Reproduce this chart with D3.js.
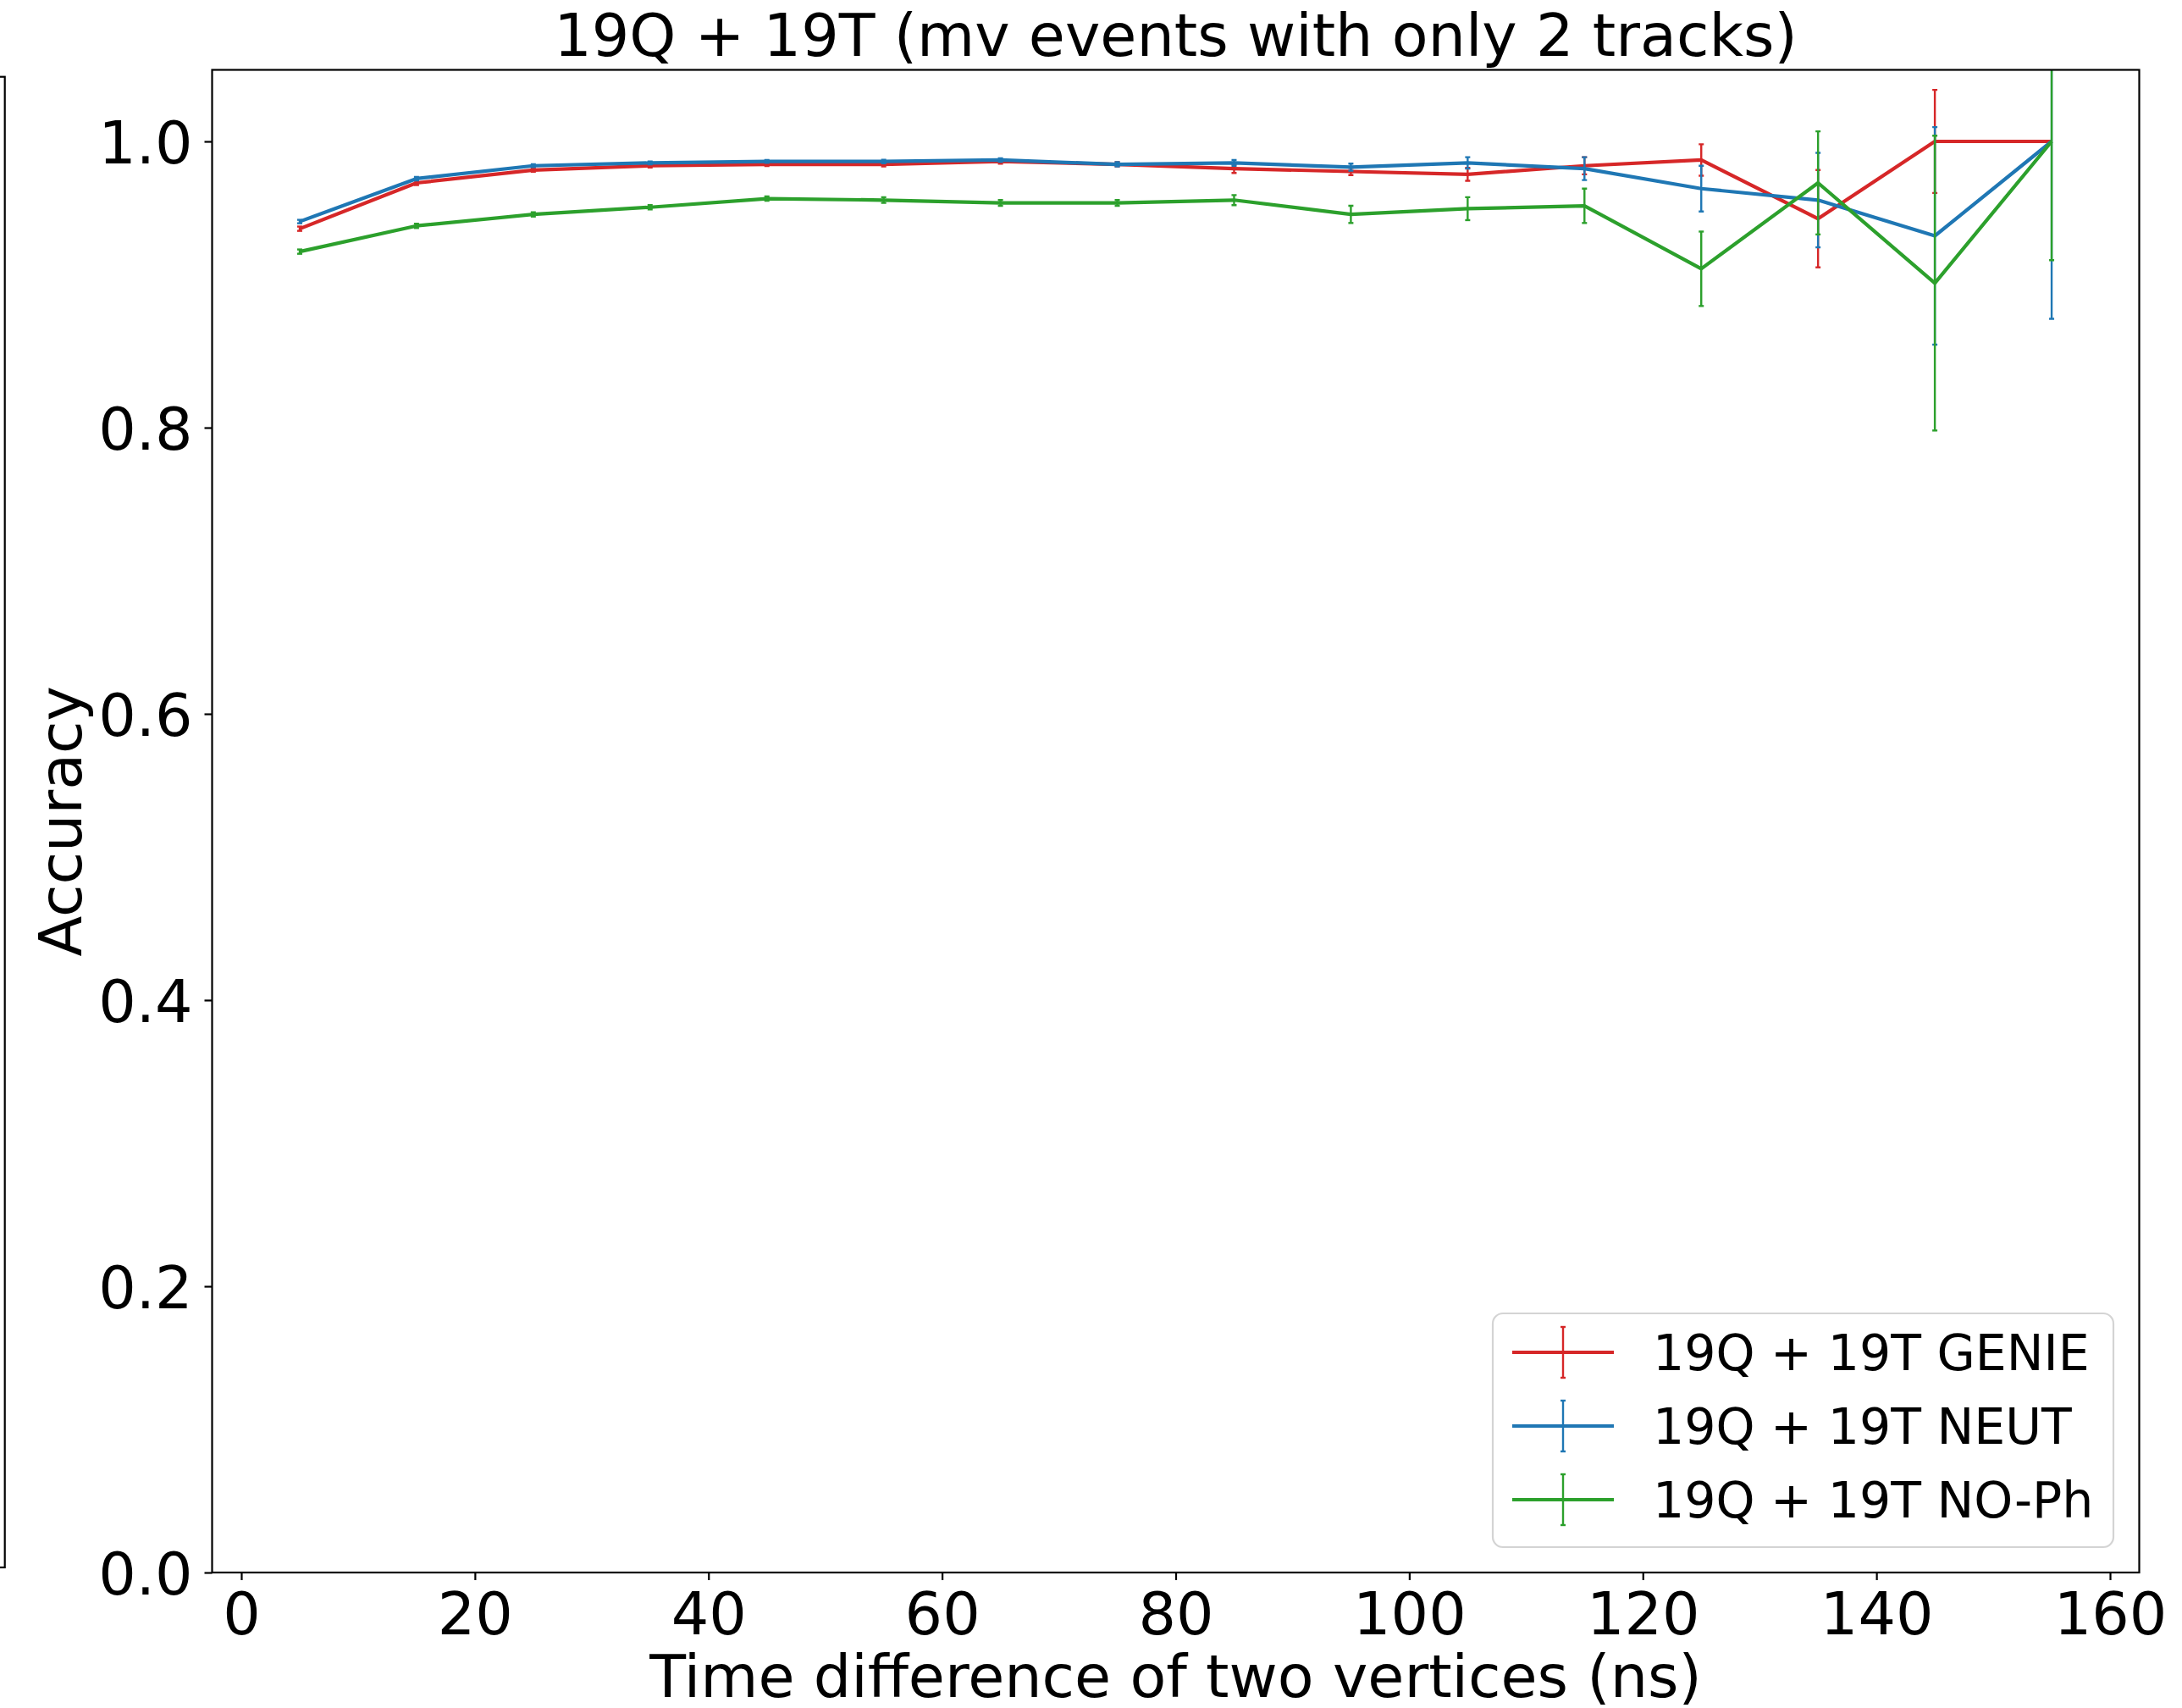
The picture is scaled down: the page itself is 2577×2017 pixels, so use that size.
<!DOCTYPE html>
<html>
<head>
<meta charset="utf-8">
<script src="https://cdn.jsdelivr.net/npm/d3@7"></script>
<style>
  html, body { margin: 0; padding: 0; background: #ffffff; }
  svg { display: block; font-family: "DejaVu Sans", sans-serif; }
</style>
</head>
<body>
<svg id="chart" width="2577" height="2017"></svg>
<script>
// Time difference bins (ns), bin centres
const timeDiff = [5, 15, 25, 35, 45, 55, 65, 75, 85, 95, 105, 115, 125, 135, 145, 155];

// Accuracy per bin and its uncertainty, one pair of arrays per sample
const genieAcc = [0.939, 0.971, 0.980, 0.983, 0.984, 0.984, 0.986, 0.984, 0.981, 0.979, 0.977, 0.983, 0.987, 0.946, 1.000, 1.000];
const genieErr = [0.0015, 0.0015, 0.0012, 0.0012, 0.0012, 0.0015, 0.0015, 0.0015, 0.003, 0.0025, 0.0045, 0.006, 0.011, 0.034, 0.036, 0.0];

const neutAcc = [0.944, 0.974, 0.983, 0.985, 0.986, 0.986, 0.987, 0.984, 0.985, 0.982, 0.985, 0.981, 0.967, 0.959, 0.934, 1.000];
const neutErr = [0.0012, 0.0012, 0.001, 0.001, 0.001, 0.0012, 0.0012, 0.0015, 0.002, 0.0025, 0.004, 0.008, 0.016, 0.033, 0.076, 0.124];

const nophAcc = [0.923, 0.941, 0.949, 0.954, 0.960, 0.959, 0.957, 0.957, 0.959, 0.949, 0.953, 0.955, 0.911, 0.971, 0.901, 1.000];
const nophErr = [0.0015, 0.0015, 0.0015, 0.0015, 0.0015, 0.002, 0.002, 0.002, 0.0035, 0.006, 0.008, 0.012, 0.026, 0.036, 0.103, 0.083];

const seriesNames = ["19Q + 19T GENIE", "19Q + 19T NEUT", "19Q + 19T NO-Ph"];
const seriesColors = ["#d62728", "#1f77b4", "#2ca02c"];

const xTicks = [0, 20, 40, 60, 80, 100, 120, 140, 160];
const yTicks = [0.0, 0.2, 0.4, 0.6, 0.8, 1.0];

const titleText = "19Q + 19T (mv events with only 2 tracks)";
const xLabel = "Time difference of two vertices (ns)";
const yLabel = "Accuracy";

const series = [
  { name: seriesNames[0], color: seriesColors[0], acc: genieAcc, err: genieErr },
  { name: seriesNames[1], color: seriesColors[1], acc: neutAcc, err: neutErr },
  { name: seriesNames[2], color: seriesColors[2], acc: nophAcc, err: nophErr }
];

// Layout
const plot = { left: 250.5, right: 2526.5, top: 82.5, bottom: 1857 };
const tickFont = 70;
const legendFont = 58.5;
const spineW = 2.2;
const lineW = 4.2;
const errW = 2.4;
const capHalf = 3;

const svg = d3.select("#chart");
svg.append("rect").attr("width", 2577).attr("height", 2017).attr("fill", "#ffffff");

const x = d3.scaleLinear().domain([-2.5, 162.5]).range([plot.left, plot.right]);
const y = d3.scaleLinear().domain([0, 1.05]).range([plot.bottom, plot.top]);

// Edge of the neighbouring panel, cut off at the left border
svg.append("rect")
  .attr("x", -20).attr("y", 90.7)
  .attr("width", 25.7).attr("height", 1851 - 90.7)
  .attr("fill", "none").attr("stroke", "#000").attr("stroke-width", spineW);

// Clip region for data marks
svg.append("defs").append("clipPath").attr("id", "plotClip")
  .append("rect")
  .attr("x", plot.left).attr("y", plot.top)
  .attr("width", plot.right - plot.left).attr("height", plot.bottom - plot.top);

const dataG = svg.append("g").attr("clip-path", "url(#plotClip)");

const line = d3.line().x((d, i) => x(timeDiff[i])).y(d => y(d));

series.forEach(s => {
  const g = dataG.append("g");
  g.append("path")
    .datum(s.acc)
    .attr("d", line)
    .attr("fill", "none")
    .attr("stroke", s.color)
    .attr("stroke-width", lineW)
    .attr("stroke-linejoin", "round");

  const bars = g.selectAll("g.err").data(s.acc.map((v, i) => ({ x: timeDiff[i], v, e: s.err[i] })))
    .enter().append("g").attr("class", "err")
    .filter(d => d.e > 0);
  bars.append("line")
    .attr("x1", d => x(d.x)).attr("x2", d => x(d.x))
    .attr("y1", d => y(d.v - d.e)).attr("y2", d => y(d.v + d.e))
    .attr("stroke", s.color).attr("stroke-width", errW);
  [-1, 1].forEach(sign => {
    bars.append("line")
      .attr("x1", d => x(d.x) - capHalf).attr("x2", d => x(d.x) + capHalf)
      .attr("y1", d => y(d.v + sign * d.e)).attr("y2", d => y(d.v + sign * d.e))
      .attr("stroke", s.color).attr("stroke-width", errW);
  });
});

// Axes
const xAxis = d3.axisBottom(x).tickValues(xTicks).tickFormat(d3.format("d"))
  .tickSizeInner(9).tickSizeOuter(0).tickPadding(11);
const yAxis = d3.axisLeft(y).tickValues(yTicks).tickFormat(d3.format(".1f"))
  .tickSizeInner(9).tickSizeOuter(0).tickPadding(14);

const gx = svg.append("g").attr("transform", `translate(0,${plot.bottom})`).call(xAxis);
const gy = svg.append("g").attr("transform", `translate(${plot.left},0)`).call(yAxis);
[gx, gy].forEach(g => {
  g.select(".domain").remove();
  g.selectAll(".tick line").attr("stroke", "#000").attr("stroke-width", spineW);
  g.selectAll(".tick text")
    .attr("fill", "#000")
    .style("font-family", "'DejaVu Sans', sans-serif")
    .style("font-size", tickFont + "px");
});
gx.selectAll(".tick text").attr("dy", "0.76em");
gy.selectAll(".tick text").attr("dy", "0.36em");

// Frame
svg.append("rect")
  .attr("x", plot.left).attr("y", plot.top)
  .attr("width", plot.right - plot.left).attr("height", plot.bottom - plot.top)
  .attr("fill", "none").attr("stroke", "#000").attr("stroke-width", spineW);

// Title and axis labels
svg.append("text")
  .attr("x", (plot.left + plot.right) / 2).attr("y", 66)
  .attr("text-anchor", "middle")
  .style("font-size", tickFont + "px")
  .text(titleText);

svg.append("text")
  .attr("x", (plot.left + plot.right) / 2).attr("y", 2004)
  .attr("text-anchor", "middle")
  .style("font-size", tickFont + "px")
  .text(xLabel);

svg.append("text")
  .attr("transform", `translate(96,${(plot.top + plot.bottom) / 2}) rotate(-90)`)
  .attr("text-anchor", "middle")
  .style("font-size", tickFont + "px")
  .text(yLabel);

// Legend
const legend = { x: 1763, y: 1551, w: 733, h: 276 };
svg.append("rect")
  .attr("x", legend.x).attr("y", legend.y)
  .attr("width", legend.w).attr("height", legend.h)
  .attr("rx", 12).attr("ry", 12)
  .attr("fill", "#ffffff").attr("fill-opacity", 0.8)
  .attr("stroke", "#d4d4d4").attr("stroke-width", 2.2);

const rowY = [1597, 1684, 1771];
series.forEach((s, i) => {
  const cy = rowY[i];
  svg.append("line")
    .attr("x1", 1786).attr("x2", 1906).attr("y1", cy).attr("y2", cy)
    .attr("stroke", s.color).attr("stroke-width", lineW);
  svg.append("line")
    .attr("x1", 1846).attr("x2", 1846).attr("y1", cy - 30).attr("y2", cy + 30)
    .attr("stroke", s.color).attr("stroke-width", errW);
  [-30, 30].forEach(o => {
    svg.append("line")
      .attr("x1", 1846 - capHalf).attr("x2", 1846 + capHalf)
      .attr("y1", cy + o).attr("y2", cy + o)
      .attr("stroke", s.color).attr("stroke-width", errW);
  });
  svg.append("text")
    .attr("x", 1952).attr("y", cy).attr("dy", "0.36em")
    .style("font-size", legendFont + "px")
    .text(s.name);
});
</script>
</body>
</html>
